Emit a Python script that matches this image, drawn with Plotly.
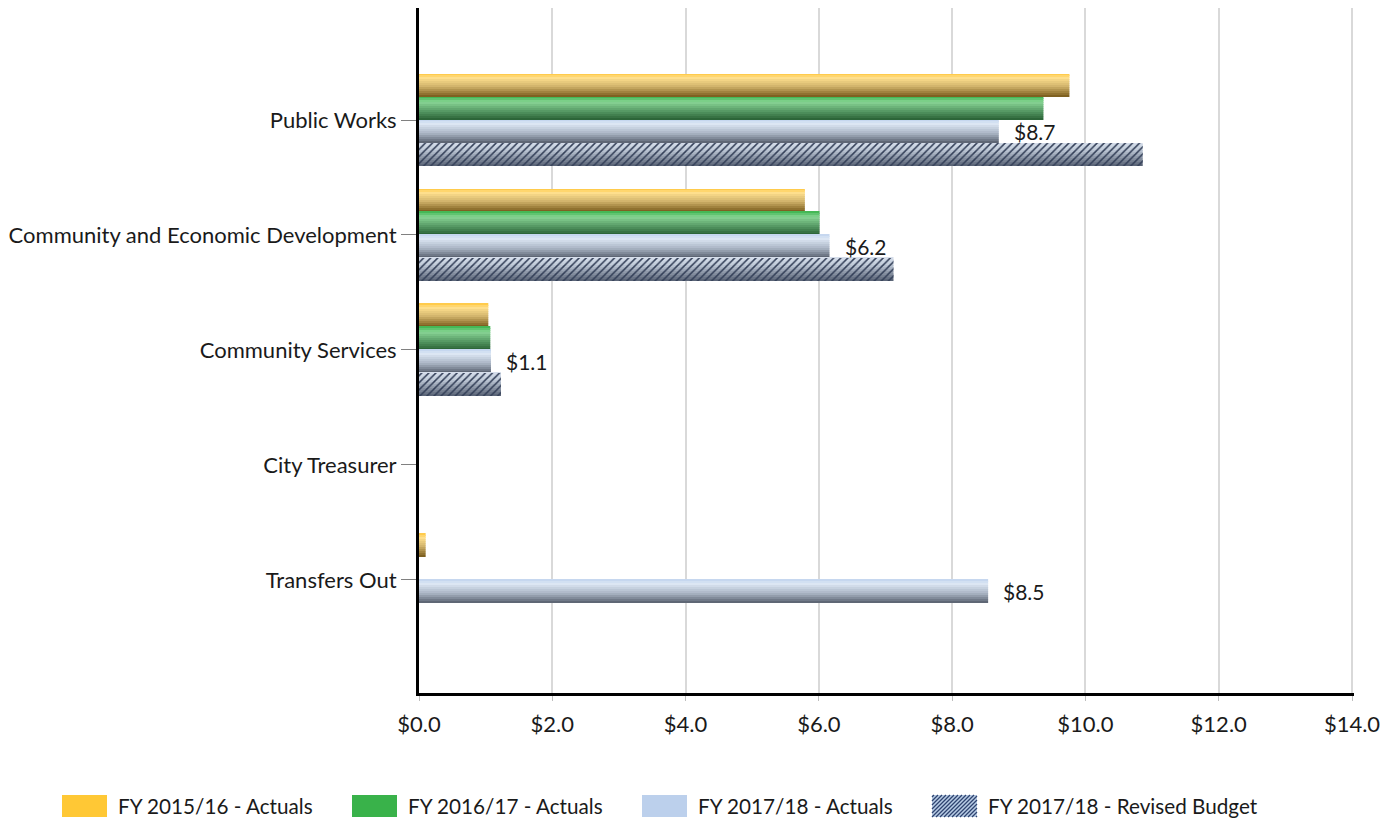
import plotly.graph_objects as go

# ---- data ($ millions) ----
categories = ["Public Works", "Community and Economic Development",
              "Community Services", "City Treasurer", "Transfers Out"]
fy1516_actuals = [9.76, 5.79, 1.04, 0.0, 0.10]
fy1617_actuals = [9.37, 6.01, 1.07, 0.0, 0.0]
fy1718_actuals = [8.70, 6.16, 1.08, 0.0, 8.54]
fy1718_revised = [10.86, 7.12, 1.23, 0.0, 0.0]
series_names = ["FY 2015/16 - Actuals", "FY 2016/17 - Actuals",
                "FY 2017/18 - Actuals", "FY 2017/18 - Revised Budget"]
x_ticks = [0, 2, 4, 6, 8, 10, 12, 14]

FONT = "Lato"
TXT = "#1a1a1a"
W, H = 1394, 820
ML, MR, MT, MB = 419, 40, 8, 127

# vertical gradient stops (top -> bottom) for each series
gradients = [
    [(0.0, "#FFC63A"), (0.2, "#FFE08E"), (0.55, "#D2B46C"), (1.0, "#775819")],
    [(0.0, "#38B24A"), (0.25, "#88D595"), (0.6, "#5A9E68"), (1.0, "#285F33")],
    [(0.0, "#C0D3EE"), (0.2, "#DDE7F4"), (0.6, "#A9B4C4"), (1.0, "#565E6C")],
    [(0.0, "#D8E0EC"), (0.3, "#C3CDDB"), (1.0, "#566072")],
]
legend_colors = ["#FFC835", "#39B24A", "#BCD0EC", "#B9CDE6"]


def hex_rgb(h):
    h = h.lstrip("#")
    return tuple(int(h[i:i + 2], 16) for i in (0, 2, 4))


def grad_color(stops, t):
    for (p0, c0), (p1, c1) in zip(stops[:-1], stops[1:]):
        if t <= p1:
            f = (t - p0) / (p1 - p0) if p1 > p0 else 0
            a, b = hex_rgb(c0), hex_rgb(c1)
            return "rgb(%d,%d,%d)" % tuple(round(a[i] + (b[i] - a[i]) * f) for i in range(3))
    return stops[-1][1]


positions = list(range(len(categories)))
all_series = [fy1516_actuals, fy1617_actuals, fy1718_actuals, fy1718_revised]

GROUP = 0.8
SLOT = GROUP / len(all_series)
STRIPS = 12

fig = go.Figure()
for s, vals in enumerate(all_series):
    slot_start = -GROUP / 2 + s * SLOT
    for k in range(STRIPS):
        t = (k + 0.5) / STRIPS
        fig.add_trace(go.Bar(
            x=vals, y=positions, orientation="h",
            width=SLOT / STRIPS, offset=slot_start + k * SLOT / STRIPS,
            marker=dict(color=grad_color(gradients[s], t), line=dict(width=0)),
            name=series_names[s], showlegend=False, hoverinfo="x+name",
        ))
# diagonal hatching over the revised budget bars
fig.add_trace(go.Bar(
    x=fy1718_revised, y=positions, orientation="h",
    width=SLOT, offset=-GROUP / 2 + 3 * SLOT,
    marker=dict(color="rgba(0,0,0,0)", line=dict(width=0),
                pattern=dict(shape="/", fgcolor="#333F58", bgcolor="rgba(0,0,0,0)",
                             size=5, solidity=0.3, fillmode="replace")),
    name=series_names[3], showlegend=False, hoverinfo="skip",
))

# value labels for FY 2017/18 actuals
annotations = []
for p, v in zip(positions, fy1718_actuals):
    if v > 0:
        annotations.append(dict(
            x=v, y=p - GROUP / 2 + 2.5 * SLOT, xref="x", yref="y",
            text="$%.1f" % v, showarrow=False, xanchor="left", yanchor="middle",
            xshift=13, font=dict(family=FONT, size=21, color=TXT),
        ))

# legend drawn below the axis
pw, ph = W - ML - MR, H - MT - MB


def px_x(x):
    return (x - ML) / pw


def px_y(y):
    return (H - MB - y) / ph


shapes = []
sw_w, sw_top, sw_bot = 45, 795, 817
legend_x = [62, 352, 642, 932]
for i, lx in enumerate(legend_x):
    shapes.append(dict(type="rect", xref="paper", yref="paper",
                       x0=px_x(lx), x1=px_x(lx + sw_w), y0=px_y(sw_bot), y1=px_y(sw_top),
                       fillcolor=legend_colors[i], line=dict(width=0), layer="above"))
    annotations.append(dict(x=px_x(lx + sw_w + 9), y=px_y(806), xref="paper", yref="paper",
                            text=series_names[i], showarrow=False, xanchor="left",
                            yanchor="middle", font=dict(family=FONT, size=20.7, color=TXT)))
# hatch lines for the revised budget swatch
hx0, hx1 = legend_x[3], legend_x[3] + sw_w
path = ""
c = hx0 + sw_top + 2
while c < hx1 + sw_bot:
    xa, xb = max(hx0, c - sw_bot), min(hx1, c - sw_top)
    if xb > xa:
        path += "M %.5f %.5f L %.5f %.5f " % (px_x(xa), px_y(c - xa), px_x(xb), px_y(c - xb))
    c += 4
shapes.append(dict(type="path", xref="paper", yref="paper", path=path,
                   line=dict(color="#2F4470", width=1.3), layer="above"))

fig.update_layout(
    width=W, height=H, autosize=False,
    margin=dict(l=ML, r=MR, t=MT, b=MB),
    paper_bgcolor="white", plot_bgcolor="white",
    barmode="overlay", showlegend=False,
    font=dict(family=FONT, size=21, color=TXT),
    annotations=annotations, shapes=shapes,
    xaxis=dict(range=[0, 14.03], tickmode="array", tickvals=x_ticks,
               ticktext=["$%.1f" % v for v in x_ticks],
               showgrid=True, gridcolor="#D9D9D9", gridwidth=2, zeroline=False,
               showline=True, linecolor="black", linewidth=3,
               ticks="outside", ticklen=5, tickcolor="#BFBFBF", ticklabelstandoff=5,
               tickfont=dict(family=FONT, size=22, color=TXT), automargin=False),
    yaxis=dict(range=[4.983, -0.974], tickmode="array", tickvals=[-1] + positions + [5],
               ticktext=[""] + categories + [""],
               showgrid=False, zeroline=False, showline=True, linecolor="black",
               linewidth=3, ticks="outside", ticklen=15, tickcolor="#808080",
               tickfont=dict(family=FONT, size=22, color=TXT), automargin=False),
)

fig.write_html("out.html")
